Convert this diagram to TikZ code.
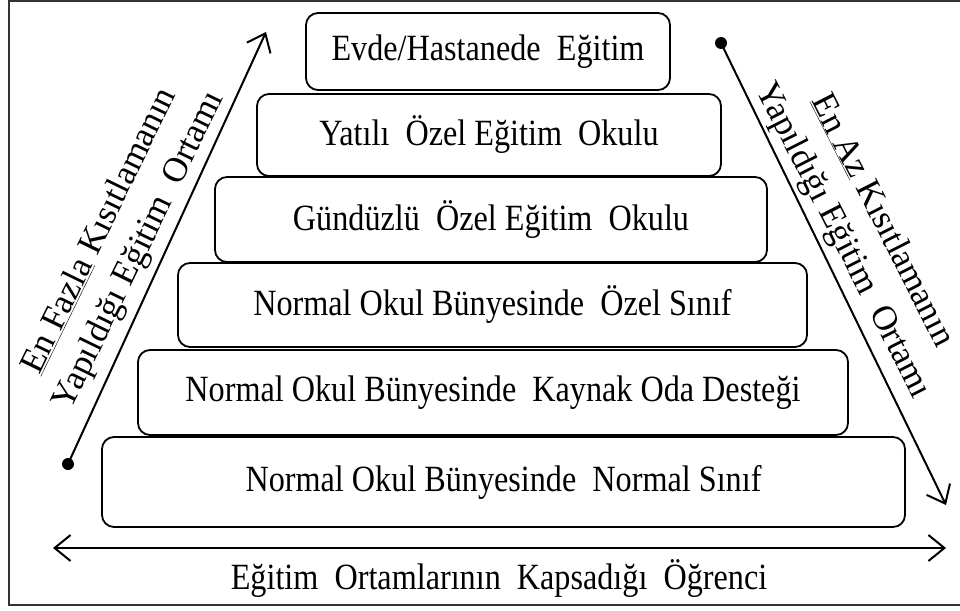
\documentclass[tikz,border=0pt]{standalone}
\usepackage{fontspec}
\setmainfont[FakeStretch=0.87]{Liberation Serif}
\newfontfamily\rotfont{Liberation Serif}
\usetikzlibrary{arrows.meta}
\begin{document}
\begin{tikzpicture}[x=1pt,y=-1pt,
  lvl/.style={draw=black, line width=1.8pt, rounded corners=12pt, inner sep=0pt,
    font=\fontsize{37}{42}\selectfont},
  arr/.style={line width=2pt, -{Straight Barb[length=16pt,width=26pt,line width=2pt]}},
  darr/.style={line width=2pt, {Straight Barb[length=16pt,width=26pt,line width=2pt]}-{Straight Barb[length=16pt,width=26pt,line width=2pt]}},
  dotnode/.style={circle, fill=black, inner sep=0pt, minimum size=12pt},
  sidetxt/.style={align=center, font=\rotfont\fontsize{35}{44}\selectfont, inner sep=0pt}]
\useasboundingbox (0,0) rectangle (960,610);
\draw[line width=2pt, black!80] (9,1) rectangle (970,605);
% levels
\node[lvl, minimum width=803pt, minimum height=90pt] (l6) at (503.5,482) {Normal Okul Bünyesinde~ Normal Sınıf};
\node[lvl, minimum width=710pt, minimum height=85pt] (l5) at (493,392.5) {Normal Okul Bünyesinde~ Kaynak Oda Desteği};
\node[lvl, minimum width=629pt, minimum height=84pt] (l4) at (492.5,305) {Normal Okul Bünyesinde~ Özel Sınıf};
\node[lvl, minimum width=552pt, minimum height=85pt] (l3) at (491,219.5) {Gündüzlü~ Özel Eğitim~ Okulu};
\node[lvl, minimum width=464pt, minimum height=82pt] (l2) at (489,135) {Yatılı~ Özel Eğitim~ Okulu};
\node[lvl, minimum width=364pt, minimum height=77pt] (l1) at (488,51.5) {Evde/Hastanede~ Eğitim};
% left arrow
\node[dotnode] (ld) at (68,464) {};
\coordinate (lt) at (266,32);
\draw[arr] (ld.center) -- (lt);
\node[sidetxt, rotate=64] (ltxt) at (120,241) {\underline{En Fazla} Kısıtlamanın\\Yapıldığı Eğitim~ Ortamı};
% right arrow
\node[dotnode] (rd) at (721,43) {};
\coordinate (rt) at (946,505);
\draw[arr] (rd.center) -- (rt);
\node[sidetxt, rotate=-63] (rtxt) at (862,231) {\underline{En Az} Kısıtlamanın\\Yapıldığı Eğitim~ Ortamı};
% bottom arrow
\coordinate (hl) at (53,548);
\coordinate (hr) at (946,548);
\draw[darr] (hl) -- (hr);
\node[font=\fontsize{37}{42}\selectfont, inner sep=0pt] (btxt) at (499,578) {Eğitim~ Ortamlarının~ Kapsadığı~ Öğrenci};
\end{tikzpicture}
\end{document}
